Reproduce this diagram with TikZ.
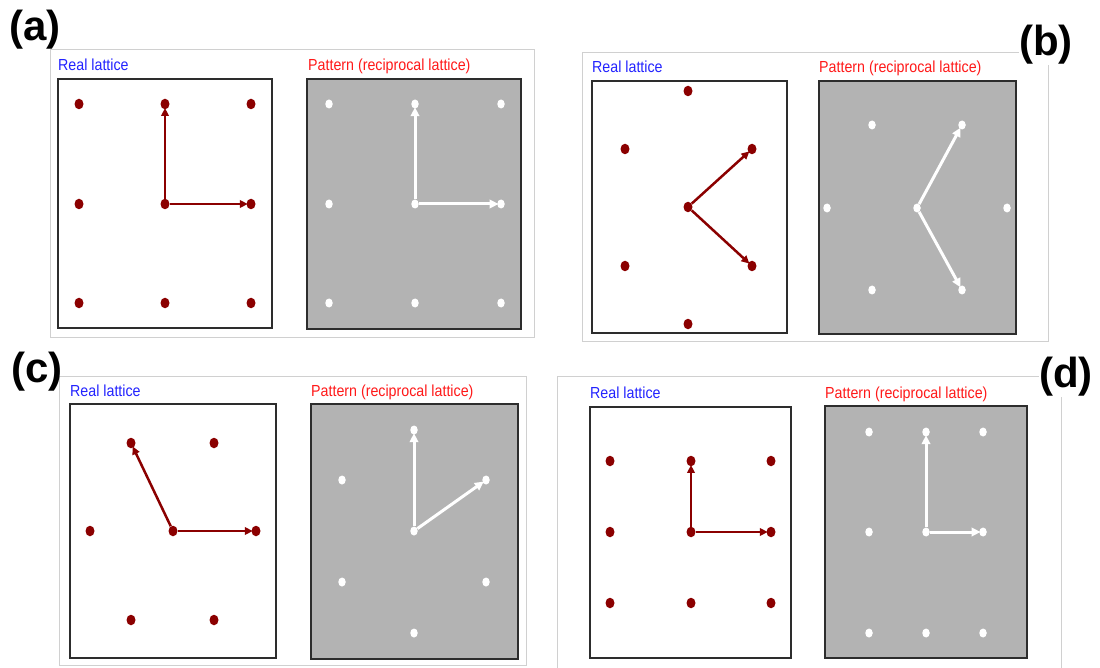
\documentclass[tikz,border=0pt]{standalone}
\usepackage{fontspec}
\usepackage{graphicx}
\setmainfont{Liberation Sans}
\usetikzlibrary{arrows.meta,shapes.geometric}
\definecolor{dred}{RGB}{139,0,0}
\definecolor{lblue}{RGB}{35,35,255}
\definecolor{lred}{RGB}{255,25,25}
\definecolor{pgray}{RGB}{179,179,179}
\definecolor{fgray}{RGB}{208,208,208}
\definecolor{bdark}{RGB}{45,45,45}
\begin{document}
\begin{tikzpicture}[x=1pt,y=-1pt,
  frame/.style={draw=fgray, line width=1pt},
  realbox/.style={draw=bdark, line width=1.5pt, fill=white},
  patbox/.style={draw=bdark, line width=1.5pt, fill=pgray},
  rdot/.style={ellipse, fill=dred, minimum width=9pt, minimum height=10.5pt, inner sep=0pt},
  wdot/.style={ellipse, fill=white, minimum width=7.5pt, minimum height=9pt, inner sep=0pt},
  rarr/.style={draw=dred, line width=2.5pt, -{Triangle[length=8pt,width=7.5pt]}, shorten >=-1.5pt},
  warr/.style={draw=white, line width=3pt, -{Triangle[length=9pt,width=8.5pt]}, shorten >=-1.5pt},
  rtxt/.style={anchor=base west, text=lblue, inner sep=0pt, font=\fontsize{16}{18}\selectfont},
  ptxt/.style={anchor=base west, text=lred, inner sep=0pt, font=\fontsize{16}{18}\selectfont},
  lab/.style={inner sep=0pt, font=\fontsize{42}{48}\selectfont\bfseries},
  labw/.style={lab, fill=white}
]
\useasboundingbox (0,0) rectangle (1100,668);

% ---------- frames ----------
\draw[frame] (50,50) rectangle (534,337);
\draw[frame] (582,53) rectangle (1048,341);
\draw[frame] (59,376) rectangle (526,665);
\draw[frame] (557,670) |- (1061,376) -- (1061,670);

% ---------- boxes ----------
\draw[realbox] (58,79) rectangle (272,328);
\draw[patbox] (307,79) rectangle (521,329);
\draw[realbox] (592,81) rectangle (787,333);
\draw[patbox] (819,81) rectangle (1016,334);
\draw[realbox] (70,404) rectangle (276,658);
\draw[patbox] (311,404) rectangle (518,659);
\draw[realbox] (590,407) rectangle (791,658);
\draw[patbox] (825,406) rectangle (1027,658);

% ---------- titles ----------
\node[rtxt] (ta1) at (58,71) {\scalebox{0.89}[1]{Real lattice}};
\node[ptxt] (ta2) at (308,71) {\scalebox{0.89}[1]{Pattern (reciprocal lattice)}};
\node[rtxt] (tb1) at (592,73) {\scalebox{0.89}[1]{Real lattice}};
\node[ptxt] (tb2) at (819,73) {\scalebox{0.89}[1]{Pattern (reciprocal lattice)}};
\node[rtxt] (tc1) at (70,396) {\scalebox{0.89}[1]{Real lattice}};
\node[ptxt] (tc2) at (311,396) {\scalebox{0.89}[1]{Pattern (reciprocal lattice)}};
\node[rtxt] (td1) at (590,398) {\scalebox{0.89}[1]{Real lattice}};
\node[ptxt] (td2) at (825,398) {\scalebox{0.89}[1]{Pattern (reciprocal lattice)}};

% ---------- panel (a) ----------
\foreach \x [count=\i] in {79,165,251}
  \foreach \y [count=\j] in {104,204,303}
    \node[rdot] (ar\i\j) at (\x,\y) {};
\foreach \x [count=\i] in {329,415,501}
  \foreach \y [count=\j] in {104,204,303}
    \node[wdot] (ap\i\j) at (\x,\y) {};
\draw[rarr] (ar22) -- (ar21);
\draw[rarr] (ar22) -- (ar32);
\draw[warr] (ap22) -- (ap21);
\draw[warr] (ap22) -- (ap32);

% ---------- panel (b) ----------
\node[rdot] (br1) at (688,91) {};
\node[rdot] (br2) at (625,149) {};
\node[rdot] (br3) at (752,149) {};
\node[rdot] (br4) at (688,207) {};
\node[rdot] (br5) at (625,266) {};
\node[rdot] (br6) at (752,266) {};
\node[rdot] (br7) at (688,324) {};
\draw[rarr] (br4) -- (br3);
\draw[rarr] (br4) -- (br6);
\node[wdot] (bp1) at (872,125) {};
\node[wdot] (bp2) at (962,125) {};
\node[wdot] (bp3) at (827,208) {};
\node[wdot] (bp4) at (917,208) {};
\node[wdot] (bp5) at (1007,208) {};
\node[wdot] (bp6) at (872,290) {};
\node[wdot] (bp7) at (962,290) {};
\draw[warr] (bp4) -- (bp2);
\draw[warr] (bp4) -- (bp7);

% ---------- panel (c) ----------
\node[rdot] (cr1) at (131,443) {};
\node[rdot] (cr2) at (214,443) {};
\node[rdot] (cr3) at (90,531) {};
\node[rdot] (cr4) at (173,531) {};
\node[rdot] (cr5) at (256,531) {};
\node[rdot] (cr6) at (131,620) {};
\node[rdot] (cr7) at (214,620) {};
\draw[rarr] (cr4) -- (cr1);
\draw[rarr] (cr4) -- (cr5);
\node[wdot] (cp0) at (414,531) {};
\node[wdot] (cp1) at (414,430) {};
\node[wdot] (cp2) at (342,480) {};
\node[wdot] (cp3) at (486,480) {};
\node[wdot] (cp4) at (342,582) {};
\node[wdot] (cp5) at (486,582) {};
\node[wdot] (cp6) at (414,633) {};
\draw[warr] (cp0) -- (cp1);
\draw[warr] (cp0) -- (cp3);

% ---------- panel (d) ----------
\foreach \x [count=\i] in {610,691,771}
  \foreach \y [count=\j] in {461,532,603}
    \node[rdot] (dr\i\j) at (\x,\y) {};
\foreach \x [count=\i] in {869,926,983}
  \foreach \y [count=\j] in {432,532,633}
    \node[wdot] (dp\i\j) at (\x,\y) {};
\draw[rarr] (dr22) -- (dr21);
\draw[rarr] (dr22) -- (dr32);
\draw[warr] (dp22) -- (dp21);
\draw[warr] (dp22) -- (dp32);

% ---------- panel labels ----------
\node[lab] (la) at (35,30) {(a)};
\node[labw] (lb) at (1046,45) {(b)};
\node[lab] (lc) at (37,372) {(c)};
\node[labw] (ld) at (1066,377) {(d)};
\end{tikzpicture}
\end{document}
